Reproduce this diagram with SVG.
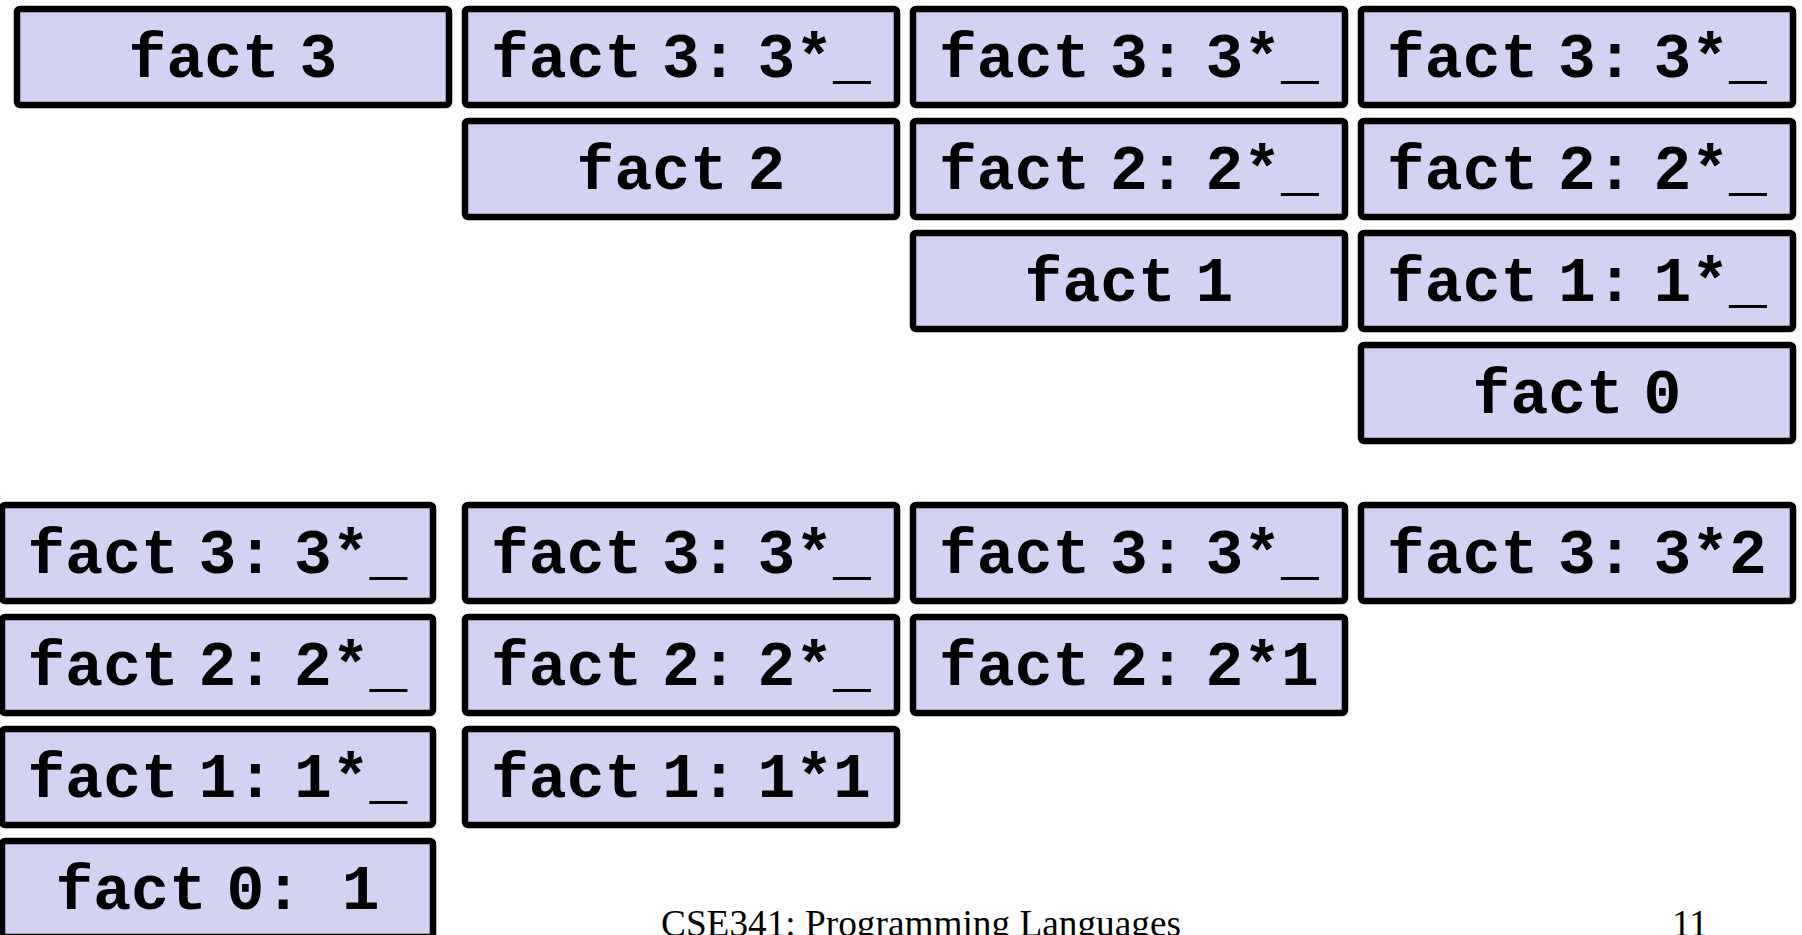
<svg xmlns="http://www.w3.org/2000/svg" width="1802" height="935" viewBox="0 0 1802 935">
<style>
.box{fill:#D2D2F2;stroke:#000;stroke-width:6.5}
.lbl{font-family:"Liberation Mono","Courier New",monospace;font-weight:bold;font-size:63px;word-spacing:-18px;fill:#000;text-anchor:middle;white-space:pre}
.foot{font-family:"Liberation Serif","Times New Roman",serif;font-size:37.3px;fill:#000}
</style>
<rect width="1802" height="935" fill="#fff"/>
<g id="connectors"></g>
<g id="t1-1"><rect class="box" x="17" y="9" width="432" height="96" rx="3"/><text class="lbl" x="233" y="77">fact 3</text></g>
<g id="t2-1"><rect class="box" x="465" y="9" width="432" height="96" rx="3"/><text class="lbl" x="681" y="77">fact 3: 3*_</text></g>
<g id="t2-2"><rect class="box" x="465" y="121" width="432" height="96" rx="3"/><text class="lbl" x="681" y="189">fact 2</text></g>
<g id="t3-1"><rect class="box" x="913" y="9" width="432" height="96" rx="3"/><text class="lbl" x="1129" y="77">fact 3: 3*_</text></g>
<g id="t3-2"><rect class="box" x="913" y="121" width="432" height="96" rx="3"/><text class="lbl" x="1129" y="189">fact 2: 2*_</text></g>
<g id="t3-3"><rect class="box" x="913" y="233" width="432" height="96" rx="3"/><text class="lbl" x="1129" y="301">fact 1</text></g>
<g id="t4-1"><rect class="box" x="1361" y="9" width="432" height="96" rx="3"/><text class="lbl" x="1577" y="77">fact 3: 3*_</text></g>
<g id="t4-2"><rect class="box" x="1361" y="121" width="432" height="96" rx="3"/><text class="lbl" x="1577" y="189">fact 2: 2*_</text></g>
<g id="t4-3"><rect class="box" x="1361" y="233" width="432" height="96" rx="3"/><text class="lbl" x="1577" y="301">fact 1: 1*_</text></g>
<g id="t4-4"><rect class="box" x="1361" y="345" width="432" height="96" rx="3"/><text class="lbl" x="1577" y="413">fact 0</text></g>
<g id="b1-1"><rect class="box" x="2" y="505" width="431" height="96" rx="3"/><text class="lbl" x="217.5" y="573">fact 3: 3*_</text></g>
<g id="b1-2"><rect class="box" x="2" y="617" width="431" height="96" rx="3"/><text class="lbl" x="217.5" y="685">fact 2: 2*_</text></g>
<g id="b1-3"><rect class="box" x="2" y="729" width="431" height="96" rx="3"/><text class="lbl" x="217.5" y="797">fact 1: 1*_</text></g>
<g id="b1-4"><rect class="box" x="2" y="841" width="431" height="96" rx="3"/><text class="lbl" x="217.5" y="909">fact 0:  1</text></g>
<g id="b2-1"><rect class="box" x="465" y="505" width="432" height="96" rx="3"/><text class="lbl" x="681" y="573">fact 3: 3*_</text></g>
<g id="b2-2"><rect class="box" x="465" y="617" width="432" height="96" rx="3"/><text class="lbl" x="681" y="685">fact 2: 2*_</text></g>
<g id="b2-3"><rect class="box" x="465" y="729" width="432" height="96" rx="3"/><text class="lbl" x="681" y="797">fact 1: 1*1</text></g>
<g id="b3-1"><rect class="box" x="913" y="505" width="432" height="96" rx="3"/><text class="lbl" x="1129" y="573">fact 3: 3*_</text></g>
<g id="b3-2"><rect class="box" x="913" y="617" width="432" height="96" rx="3"/><text class="lbl" x="1129" y="685">fact 2: 2*1</text></g>
<g id="b4-1"><rect class="box" x="1361" y="505" width="432" height="96" rx="3"/><text class="lbl" x="1577" y="573">fact 3: 3*2</text></g>
<g id="footer"><text class="foot" x="661" y="936">CSE341: Programming Languages</text><text class="foot" x="1672" y="936">11</text></g>
</svg>
